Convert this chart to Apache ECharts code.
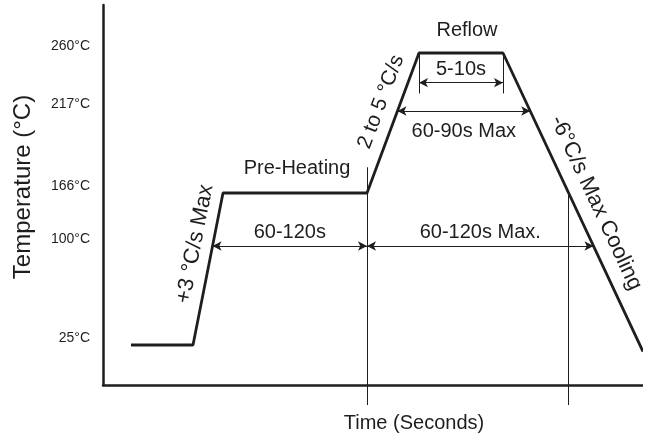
<!DOCTYPE html>
<html>
<head>
<meta charset="utf-8">
<script src="https://cdn.jsdelivr.net/npm/echarts@6/dist/echarts.min.js"></script>
<style>
  html, body { margin: 0; padding: 0; background: #fff; }
  #chart { width: 643px; height: 444px; }
</style>
</head>
<body>
<div id="chart"></div>
<script>
// reflow profile key points
var times = [14, 45, 60, 132, 158, 200, 270];   // seconds
var temps = [25, 25, 166, 166, 260, 260, 20];   // °C

// temperature ticks on the y axis
var tickTemps = [25, 100, 166, 217, 260];
var tickLabels = ['25°C', '100°C', '166°C', '217°C', '260°C'];

// the drawing is not to scale: height of each tick on the schematic axis
var tickLevels = [40, 139, 192, 274, 332];

var FONT = "'Liberation Sans', Arial, sans-serif";
var INK = '#1e1e1e';

// piecewise scale temperature -> schematic level
function level(t) {
  var i = 0;
  if (t > tickTemps[tickTemps.length - 1]) i = tickTemps.length - 2;
  else {
    while (i < tickTemps.length - 2 && t > tickTemps[i + 1]) i++;
  }
  var f = (t - tickTemps[i]) / (tickTemps[i + 1] - tickTemps[i]);
  return tickLevels[i] + f * (tickLevels[i + 1] - tickLevels[i]);
}

// time where segment a->b of the profile crosses a temperature
function timeAt(a, temp) {
  var la = level(temps[a]), lb = level(temps[a + 1]), lt = level(temp);
  return times[a] + (lt - la) / (lb - la) * (times[a + 1] - times[a]);
}

var profile = times.map(function (t, i) { return [t, level(temps[i])]; });

var tRamp100 = timeAt(1, 100);
var tRise217 = timeAt(3, 217);
var tCool217 = timeAt(5, 217);
var tCool166 = timeAt(5, 166);
var tCool100 = timeAt(5, 100);

function arrow(x1, x2, temp, text, pos, dist) {
  return [
    { coord: [x1, level(temp)], symbol: 'arrow',
      label: { show: true, formatter: text, position: pos, distance: dist,
               color: INK, fontSize: 20, fontFamily: FONT } },
    { coord: [x2, level(temp)], symbol: 'arrow' }
  ];
}
function vline(x, tTop, yBottom) {
  return [
    { coord: [x, level(tTop)], symbol: 'none', label: { show: false } },
    { coord: [x, yBottom], symbol: 'none' }
  ];
}
function note(text, x, y, deg, size, align) {
  return {
    type: 'text', x: x, y: y, rotation: (deg || 0) * Math.PI / 180,
    style: { text: text, fill: INK, fontSize: size, fontFamily: FONT,
             align: align || 'center', verticalAlign: 'middle' }
  };
}

var chart = echarts.init(document.getElementById('chart'));
var option = {
  animation: false,
  grid: { left: 103, right: 0, top: 5, bottom: 59 },
  xAxis: {
    type: 'value', min: 0, max: 270,
    axisLine: { lineStyle: { color: INK, width: 2.5 } },
    axisTick: { show: true, customValues: [132, tCool166], length: 20, lineStyle: { color: INK, width: 1 } },
    axisLabel: { show: false },
    splitLine: { show: false }
  },
  yAxis: {
    type: 'value', min: 0, max: 380,
    axisLine: { show: true, lineStyle: { color: INK, width: 2.5 } },
    axisTick: { show: false },
    splitLine: { show: false },
    axisLabel: {
      customValues: tickLevels,
      margin: 13,
      verticalAlign: 'bottom',
      color: INK, fontSize: 14, fontFamily: FONT,
      formatter: function (v) {
        var i = tickLevels.indexOf(v);
        return i < 0 ? '' : tickLabels[i];
      }
    }
  },
  graphic: [
    note('Reflow', 467, 30, 0, 20),
    note('Pre-Heating', 297, 168, 0, 20),
    note('+3 °C/s Max', 195, 244, 78.8, 22),
    note('2 to 5 °C/s', 381, 102, 69.6, 21),
    note('-6°C/s Max Cooling', 556, 117, -65, 22, 'left'),
    note('Time (Seconds)', 414, 423, 0, 20),
    note('Temperature (°C)', 23, 187, 90, 24)
  ],
  series: [{
    type: 'line',
    data: profile,
    symbol: 'none',
    silent: true,
    lineStyle: { color: INK, width: 2.8 },
    markLine: {
      silent: true,
      symbolSize: [7, 9],
      lineStyle: { type: 'solid', color: INK, width: 1 },
      emphasis: { disabled: true },
      data: [
        arrow(tRamp100, 132, 100, '60-120s', 'middle', 4),
        arrow(132, tCool100, 100, '60-120s Max.', 'middle', 4),
        arrow(tRise217, tCool217, 217, '60-90s Max', 'insideMiddleBottom', 10),
        arrow(158, 200, 238, '5-10s', 'middle', 3),
        vline(158, 260, level(230)),
        vline(200, 260, level(230)),
        vline(132, 182, 0),
        vline(tCool166, 166, 0)
      ]
    }
  }]
};
chart.setOption(option);
</script>
</body>
</html>
